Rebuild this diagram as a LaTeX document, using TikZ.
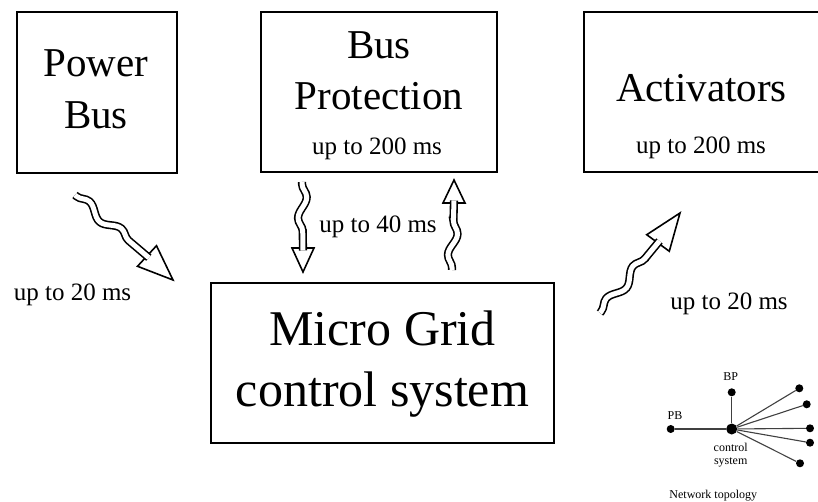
\documentclass[tikz,border=0pt]{standalone}
\usepackage{fontspec}
\setmainfont{Liberation Serif}
\usepackage{tikz}
\usetikzlibrary{calc}
\usetikzlibrary{decorations.pathmorphing}

\begin{document}
\begin{tikzpicture}[x=1pt,y=-1pt]
			\tikzstyle{BoxStyle}  = [draw, rectangle, line width=1.8pt, inner sep=0pt]
			\tikzstyle{BigText}   = [anchor=base, inner sep=0pt, font=\fontsize{41}{45}\selectfont]
			\tikzstyle{GridText}  = [anchor=base, inner sep=0pt, font=\fontsize{50}{55}\selectfont]
			\tikzstyle{TimeText}  = [anchor=base, inner sep=0pt, font=\fontsize{25}{28}\selectfont]
			\tikzstyle{SmallText} = [anchor=base, inner sep=0pt, font=\fontsize{12}{14}\selectfont]
			\tikzstyle{WaveStyle} = [line width=1.6pt, double=white, double distance=5pt,
			                         decorate, decoration={snake, amplitude=4.5pt, segment length=42pt,
			                         pre length=2pt, post length=8pt}]
			\tikzstyle{HeadStyle} = [line width=1.6pt, fill=white, line join=miter]
			\tikzstyle{DotStyle}  = [circle, fill, inner sep=0pt, minimum size=8pt]
			\tikzstyle{LinkStyle} = [line width=1.1pt, black!75]
			\useasboundingbox (0,0) rectangle (818,502);
			% boxes
			\node[BoxStyle, minimum width=160, minimum height=161] (PB) at (96.7,92.3) {};
			\node[BoxStyle, minimum width=236, minimum height=160] (BP) at (379,92) {};
			\node[BoxStyle, minimum width=238, minimum height=160] (AC) at (703,92) {};
			\node[BoxStyle, minimum width=343, minimum height=160] (MG) at (382.5,363) {};
			\node[BigText] (pbA) at (96,77) {Power};
			\node[BigText] (pbB) at (96,129) {Bus};
			\node[BigText] (bpA) at (379,59) {Bus};
			\node[BigText] (bpB) at (379,110) {Protection};
			\node[TimeText] (bpT) at (377,155) {up to 200 ms};
			\node[BigText] (acA) at (701.5,102) {Activators};
			\node[TimeText] (acT) at (701,154) {up to 200 ms};
			\node[GridText] (mgA) at (382.5,345) {Micro Grid};
			\node[GridText] (mgB) at (382.5,406) {control system};
			\node[TimeText] (tL) at (72.5,301) {up to 20 ms};
			\node[TimeText] (tM) at (378,233) {up to 40 ms};
			\node[TimeText] (tR) at (729,309) {up to 20 ms};
			% wavy arrows
			\coordinate (a1s) at (75,195);  \coordinate (a1b) at (147,256); \coordinate (a1t) at (173,280);
			\coordinate (a2s) at (302,182); \coordinate (a2b) at (303,248); \coordinate (a2t) at (303,272);
			\coordinate (a3s) at (452,270); \coordinate (a3b) at (454,203); \coordinate (a3t) at (454,180);
			\coordinate (a4s) at (600,313); \coordinate (a4b) at (658,243); \coordinate (a4t) at (680,213);
			\draw[HeadStyle] ($(a1b)!14pt!90:(a1t)$) -- (a1t) -- ($(a1b)!14pt!-90:(a1t)$) -- cycle;
			\draw[HeadStyle] ($(a2b)!11pt!90:(a2t)$) -- (a2t) -- ($(a2b)!11pt!-90:(a2t)$) -- cycle;
			\draw[HeadStyle] ($(a3b)!11pt!90:(a3t)$) -- (a3t) -- ($(a3b)!11pt!-90:(a3t)$) -- cycle;
			\draw[HeadStyle] ($(a4b)!14pt!90:(a4t)$) -- (a4t) -- ($(a4b)!14pt!-90:(a4t)$) -- cycle;
			\draw[WaveStyle] (a1s) -- ($(a1b)!2.5pt!(a1t)$);
			\draw[WaveStyle] (a2s) -- ($(a2b)!2.5pt!(a2t)$);
			\draw[WaveStyle] (a3s) -- ($(a3b)!2.5pt!(a3t)$);
			\draw[WaveStyle] (a4s) -- ($(a4b)!2.5pt!(a4t)$);
			% network topology
			\node[DotStyle, minimum size=11pt] (cs) at (731.7,429) {};
			\node[DotStyle] (bpd) at (731.7,392.3) {};
			\node[DotStyle] (pbd) at (670.7,429) {};
			\node[DotStyle] (r1) at (799.3,388.3) {};
			\node[DotStyle] (r2) at (806.7,404.3) {};
			\node[DotStyle] (r3) at (810,428.3) {};
			\node[DotStyle] (r4) at (810,442.7) {};
			\node[DotStyle] (r5) at (800,463.3) {};
			\draw[LinkStyle] (cs) -- (bpd);
			\draw[LinkStyle] (cs) -- (pbd);
			\foreach \r in {r1,r2,r3,r4,r5}
				\draw[LinkStyle] (cs) -- (\r);
			\node[SmallText] (lbp) at (730.7,380) {BP};
			\node[SmallText] (lpb) at (675,419) {PB};
			\node[SmallText] (lcA) at (730.7,451.7) {control};
			\node[SmallText] (lcB) at (730.7,464) {system};
			\node[SmallText] (lnt) at (713.3,498) {Network topology};
		\end{tikzpicture}
\end{document}
